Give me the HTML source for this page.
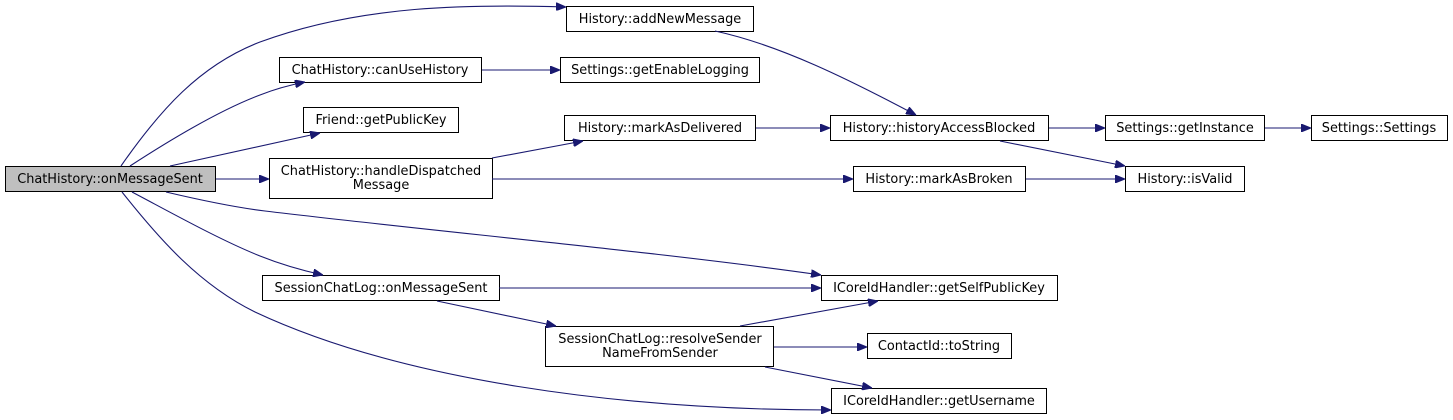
<!DOCTYPE html>
<html><head><meta charset="utf-8"><style>
html,body{margin:0;padding:0;background:#fff;}
svg{display:block;}
text{font-family:"DejaVu Sans","Liberation Sans",sans-serif;font-size:12.9px;fill:#000;}
.n{fill:#fff;stroke:#000;stroke-width:1;}
.e{fill:none;stroke:#191970;stroke-width:1.1;}
</style></head><body>
<svg width="1453" height="420" viewBox="0 0 1453 420" xmlns="http://www.w3.org/2000/svg">
<defs><marker id="a" markerWidth="10" markerHeight="8" refX="10" refY="4" orient="auto" markerUnits="userSpaceOnUse"><path d="M0,0 L10,4 L0,8 Z" fill="#191970" stroke="#191970"/></marker></defs>
<g text-anchor="middle">
<rect x="5.5" y="166.5" width="210" height="25" fill="#bfbfbf" stroke="#000"/><text x="110" y="183">ChatHistory::onMessageSent</text>
<rect class="n" x="279.5" y="57.5" width="202" height="25"/><text x="380" y="74">ChatHistory::canUseHistory</text>
<rect class="n" x="303.5" y="107.5" width="155" height="25"/><text x="381" y="124">Friend::getPublicKey</text>
<rect class="n" x="269.5" y="158.5" width="223" height="40"/><text x="381" y="175">ChatHistory::handleDispatched</text><text x="381" y="189">Message</text>
<rect class="n" x="262.5" y="275.5" width="237" height="25"/><text x="381" y="292">SessionChatLog::onMessageSent</text>
<rect class="n" x="566.5" y="6.5" width="187" height="25"/><text x="660" y="23">History::addNewMessage</text>
<rect class="n" x="560.5" y="57.5" width="199" height="25"/><text x="660" y="74">Settings::getEnableLogging</text>
<rect class="n" x="564.5" y="115.5" width="191" height="25"/><text x="660" y="132">History::markAsDelivered</text>
<rect class="n" x="830.5" y="115.5" width="218" height="25"/><text x="939" y="132">History::historyAccessBlocked</text>
<rect class="n" x="853.5" y="166.5" width="172" height="25"/><text x="939" y="183">History::markAsBroken</text>
<rect class="n" x="821.5" y="275.5" width="236" height="25"/><text x="939" y="292">ICoreIdHandler::getSelfPublicKey</text>
<rect class="n" x="545.5" y="326.5" width="228" height="40"/><text x="660" y="343">SessionChatLog::resolveSender</text><text x="660" y="357">NameFromSender</text>
<rect class="n" x="867.5" y="333.5" width="144" height="25"/><text x="939" y="350">ContactId::toString</text>
<rect class="n" x="831.5" y="388.5" width="215" height="25"/><text x="939" y="405">ICoreIdHandler::getUsername</text>
<rect class="n" x="1105.5" y="115.5" width="159" height="25"/><text x="1185" y="132">Settings::getInstance</text>
<rect class="n" x="1311.5" y="115.5" width="136" height="25"/><text x="1379" y="132">Settings::Settings</text>
<rect class="n" x="1125.5" y="166.5" width="119" height="25"/><text x="1185" y="183">History::isValid</text>
</g>
<g class="e" marker-end="url(#a)">
<path d="M121,166 C160,110 200,65 260,42 C360,5 470,4 566,7"/>
<path d="M130,166 C170,140 220,110 260,95 C275,89 290,85 305,82"/>
<path d="M170,166 L320,133"/>
<path d="M216,179 L269,179"/>
<path d="M166,192 C200,200 240,208 265,211 C440,232 660,252 821,275"/>
<path d="M132,192 C170,212 220,240 260,256 C280,264 300,270 323,275"/>
<path d="M122,192 C160,240 200,285 255,312 C400,380 620,410 831,410"/>
<path d="M482,70 L560,70"/>
<path d="M492,158 L583,141"/>
<path d="M492,179 L853,179"/>
<path d="M715,31 C780,45 850,80 916,115"/>
<path d="M756,128 L830,128"/>
<path d="M1049,128 L1105,128"/>
<path d="M1265,128 L1311,128"/>
<path d="M1000,141 L1125,166"/>
<path d="M1026,179 L1125,179"/>
<path d="M499,288 L821,288"/>
<path d="M437,301 L556,326"/>
<path d="M740,326 L878,301"/>
<path d="M774,347 L867,347"/>
<path d="M765,367 L872,388"/>
</g>
</svg>
</body></html>
